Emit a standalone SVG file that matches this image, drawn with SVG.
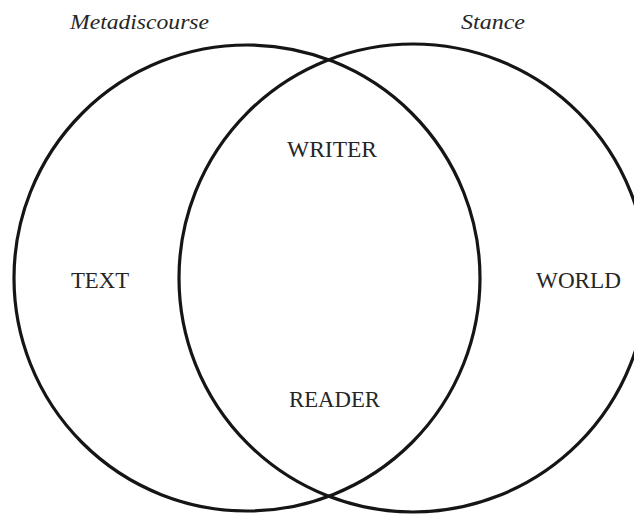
<svg xmlns="http://www.w3.org/2000/svg" width="634" height="515" viewBox="0 0 634 515">
<style>
.ring{fill:none;stroke:#151515;stroke-width:3.2}
.lbl{font-family:"Liberation Serif","Times New Roman",serif;font-size:23px;fill:#262626}
.ttl{font-family:"Liberation Serif","Times New Roman",serif;font-size:21px;font-style:italic;fill:#262626}
</style>
<rect width="634" height="515" fill="#ffffff"/>
<g id="metadiscourse">
<circle class="ring" cx="247" cy="278" r="233"/>
<text class="ttl" x="70" y="29" textLength="139" lengthAdjust="spacingAndGlyphs">Metadiscourse</text>
<text class="lbl" x="71" y="288" textLength="58" lengthAdjust="spacingAndGlyphs">TEXT</text>
</g>
<g id="stance">
<circle class="ring" cx="413" cy="278" r="234"/>
<text class="ttl" x="461" y="29" textLength="64" lengthAdjust="spacingAndGlyphs">Stance</text>
<text class="lbl" x="536" y="288" textLength="85" lengthAdjust="spacingAndGlyphs">WORLD</text>
</g>
<g id="overlap">
<text class="lbl" x="287" y="157" textLength="90" lengthAdjust="spacingAndGlyphs">WRITER</text>
<text class="lbl" x="289" y="407" textLength="91" lengthAdjust="spacingAndGlyphs">READER</text>
</g>
<g id="connectors"></g>
</svg>
